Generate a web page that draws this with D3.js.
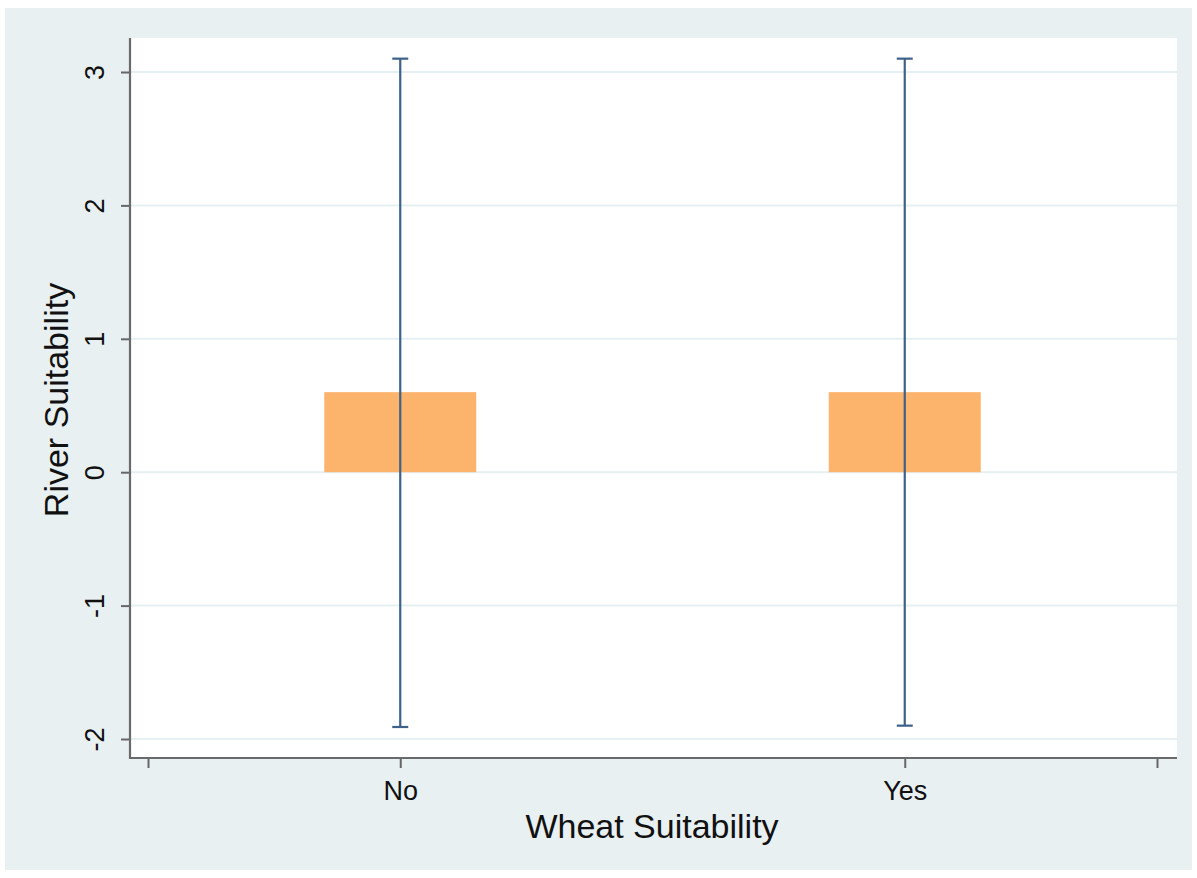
<!DOCTYPE html>
<html>
<head>
<meta charset="utf-8">
<script src="https://cdn.jsdelivr.net/npm/d3@7"></script>
<style>
  html, body { margin: 0; padding: 0; background: #ffffff; }
  svg { display: block; font-family: "Liberation Sans", Arial, Helvetica, sans-serif; }
</style>
</head>
<body>
<svg id="chart" width="1197" height="878"></svg>
<script>
// Categories of wheat suitability and their position on the x axis
const categories = ["No", "Yes"];
const categoryPos = [1, 3];
// Bar heights (mean river suitability) and interval bounds
const meanValues = [0.6, 0.6];
const lowerValues = [-1.91, -1.90];
const upperValues = [3.10, 3.10];
// Axis ticks
const yTicks = [-2, -1, 0, 1, 2, 3];
const xTicks = [0, 1, 3, 4];
const xTickLabels = { 1: "No", 3: "Yes" };

const svg = d3.select("#chart");

// Outer panel
svg.append("rect")
  .attr("x", 5).attr("y", 8).attr("width", 1187).attr("height", 862)
  .attr("fill", "#e8f0f2");

// Plot region
const plot = { left: 130, right: 1177, top: 38, bottom: 758 };
svg.append("rect")
  .attr("x", plot.left).attr("y", plot.top)
  .attr("width", plot.right - plot.left).attr("height", plot.bottom - plot.top)
  .attr("fill", "#ffffff");

const x = d3.scaleLinear().domain([0, 4]).range([148, 1157]);
const y = d3.scaleLinear().domain([-2, 3]).range([739, 72]);

// Horizontal grid lines
svg.append("g").selectAll("line").data(yTicks).join("line")
  .attr("x1", plot.left).attr("x2", plot.right)
  .attr("y1", d => y(d)).attr("y2", d => y(d))
  .attr("stroke", "#e6eff1").attr("stroke-width", 2);

// Bars
const barHalf = 76;
svg.append("g").selectAll("rect").data(categories).join("rect")
  .attr("x", (d, i) => x(categoryPos[i]) - barHalf)
  .attr("width", barHalf * 2)
  .attr("y", (d, i) => y(meanValues[i]))
  .attr("height", (d, i) => y(0) - y(meanValues[i]))
  .attr("fill", "#fcb36c");

// Interval lines with caps
const capHalf = 8;
const errColor = "#3e6189";
const eg = svg.append("g").attr("stroke", errColor).attr("stroke-width", 2.2);
categories.forEach((c, i) => {
  const cx = x(categoryPos[i]);
  eg.append("line").attr("x1", cx).attr("x2", cx)
    .attr("y1", y(upperValues[i])).attr("y2", y(lowerValues[i]));
  eg.append("line").attr("x1", cx - capHalf).attr("x2", cx + capHalf)
    .attr("y1", y(upperValues[i])).attr("y2", y(upperValues[i]));
  eg.append("line").attr("x1", cx - capHalf).attr("x2", cx + capHalf)
    .attr("y1", y(lowerValues[i])).attr("y2", y(lowerValues[i]));
});

// Y axis
const yAxis = d3.axisLeft(y).tickValues(yTicks).tickSize(9)
  .tickFormat(d => String(d));
const yg = svg.append("g").attr("transform", `translate(${plot.left},0)`).call(yAxis);
yg.attr("font-family", null).attr("font-size", null);
yg.select(".domain").remove();
yg.selectAll(".tick line").attr("stroke", "#666").attr("stroke-width", 2);
yg.selectAll(".tick text")
  .attr("font-size", 27).attr("fill", "#111")
  .attr("text-anchor", "middle").attr("dy", null)
  .attr("x", null)
  .attr("transform", "translate(-26,0) rotate(-90)");
svg.append("line")
  .attr("x1", plot.left).attr("x2", plot.left)
  .attr("y1", plot.top).attr("y2", plot.bottom + 1)
  .attr("stroke", "#6a6a6a").attr("stroke-width", 2.2);

// X axis
const xAxis = d3.axisBottom(x).tickValues(xTicks).tickSize(10)
  .tickFormat(d => xTickLabels[d] || "");
const xg = svg.append("g").attr("transform", `translate(0,${plot.bottom})`).call(xAxis);
xg.attr("font-family", null).attr("font-size", null);
xg.select(".domain").remove();
xg.selectAll(".tick line").attr("stroke", "#666").attr("stroke-width", 2);
xg.selectAll(".tick text")
  .attr("font-size", 27).attr("fill", "#111")
  .attr("y", 42).attr("dy", null);
svg.append("line")
  .attr("x1", plot.left - 1).attr("x2", plot.right)
  .attr("y1", plot.bottom).attr("y2", plot.bottom)
  .attr("stroke", "#6a6a6a").attr("stroke-width", 2.2);

// Axis titles
svg.append("text")
  .attr("x", 652).attr("y", 838)
  .attr("text-anchor", "middle").attr("font-size", 34).attr("fill", "#111")
  .text("Wheat Suitability");
svg.append("text")
  .attr("transform", "translate(68,400) rotate(-90)")
  .attr("text-anchor", "middle").attr("font-size", 34).attr("fill", "#111")
  .text("River Suitability");
</script>
</body>
</html>
